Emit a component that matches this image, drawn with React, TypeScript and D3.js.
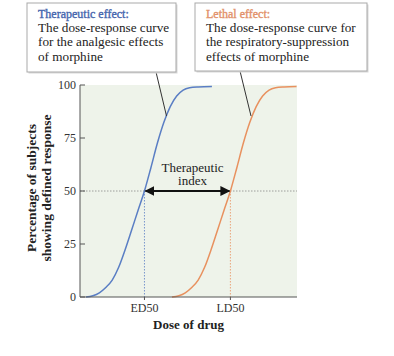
import React from "react";
import * as d3 from "d3";

const W = 394;
const H = 356;

// dose (arbitrary units) vs percent responding
const analgesicDose = [2.8, 6, 9, 12, 15, 18, 21, 24, 27, 30, 33, 36, 39, 42, 45, 48, 51, 55, 61.4];
const analgesicPct = [0, 0.6, 2, 4.5, 8, 14, 22.3, 31.5, 40.8, 50, 61, 72.5, 82.3, 89.8, 94.8, 97.6, 98.7, 99.1, 99.3];
const lethalDose = [42.8, 46, 49, 52, 55, 58, 61, 64, 67, 70, 73, 76, 79, 82, 85, 88, 91, 95, 100.8];
const lethalPct = [0, 0.6, 2, 4.5, 8, 14, 22.3, 31.5, 40.8, 50, 61, 72.5, 82.3, 89.8, 94.8, 97.6, 98.7, 99.1, 99.3];

const yTicks = [0, 25, 50, 75, 100];
const ED50 = 30;
const LD50 = 70;
const xTickValues = [ED50, LD50];
const xTickLabels = ["ED50", "LD50"];

const leftBoxTitle = "Therapeutic effect:";
const leftBoxLines = ["The dose-response curve", "for the analgesic effects", "of morphine"];
const rightBoxTitle = "Lethal effect:";
const rightBoxLines = ["The dose-response curve for", "the respiratory-suppression", "effects of morphine"];

const BLUE = "#5a7ec4";
const ORANGE = "#e8915f";
const FONT = "'Liberation Serif', 'DejaVu Serif', serif";

export default function App() {
  const x = d3.scaleLinear().domain([0, 101]).range([80, 297]);
  const y = d3.scaleLinear().domain([0, 100]).range([297, 85]);

  const line = d3
    .line<[number, number]>()
    .x((d) => x(d[0]))
    .y((d) => y(d[1]))
    .curve(d3.curveMonotoneX);

  const blue = analgesicDose.map((d, i) => [d, analgesicPct[i]] as [number, number]);
  const orange = lethalDose.map((d, i) => [d, lethalPct[i]] as [number, number]);

  const box = (
    bx: number,
    by: number,
    bw: number,
    bh: number,
    title: string,
    lines: string[],
    color: string
  ) => (
    <g>
      <rect x={bx + 1.5} y={by + 1.5} width={bw} height={bh} fill="#d8d8d8" />
      <rect x={bx} y={by} width={bw} height={bh} fill="#fff" stroke="#a9a9a9" strokeWidth={1} />
      <text
        x={bx + 11}
        y={by + 14.5}
        fill={color}
        fontSize={12}
        stroke={color}
        strokeWidth={0.35}
        fontFamily={FONT}
      >
        {title}
      </text>
      {lines.map((l, i) => (
        <text key={i} x={bx + 11} y={by + 29 + i * 14.3} fill="#222" fontSize={13.2} fontFamily={FONT}>
          {l}
        </text>
      ))}
    </g>
  );

  return (
    <svg
      width={W}
      height={H}
      style={{ position: "absolute", left: 0, top: 0, background: "#fff" }}
      fontFamily={FONT}
    >
      {/* plot background */}
      <rect x={x(0)} y={y(100)} width={x(101) - x(0)} height={y(0) - y(100)} fill="#eef3ea" />

      {/* reference lines */}
      <line x1={x(0)} x2={x(101)} y1={y(50)} y2={y(50)} stroke="#888" strokeWidth={0.8} strokeDasharray="1.5,1.5" />
      <line x1={x(ED50)} x2={x(ED50)} y1={y(50)} y2={y(0)} stroke={BLUE} strokeWidth={0.8} strokeDasharray="1.5,1.5" />
      <line x1={x(LD50)} x2={x(LD50)} y1={y(50)} y2={y(0)} stroke={ORANGE} strokeWidth={0.8} strokeDasharray="1.5,1.5" />

      {/* curves */}
      <path d={line(blue) || ""} fill="none" stroke={BLUE} strokeWidth={1.5} />
      <path d={line(orange) || ""} fill="none" stroke={ORANGE} strokeWidth={1.5} />

      {/* therapeutic index arrow */}
      <defs>
        <marker id="ah" viewBox="0 0 10 10" refX="9" refY="5" markerWidth="5" markerHeight="5" orient="auto-start-reverse">
          <path d="M0,0 L10,5 L0,10 z" fill="#111" />
        </marker>
      </defs>
      <line
        x1={x(ED50) + 1}
        x2={x(LD50) - 1}
        y1={y(50)}
        y2={y(50)}
        stroke="#111"
        strokeWidth={2}
        markerStart="url(#ah)"
        markerEnd="url(#ah)"
      />
      <text x={192.5} y={171.5} textAnchor="middle" fontSize={13} fill="#222">
        Therapeutic
      </text>
      <text x={192.5} y={185} textAnchor="middle" fontSize={13} fill="#222">
        index
      </text>

      {/* axes */}
      <line x1={x(0)} x2={x(0)} y1={y(100)} y2={y(0)} stroke="#555" strokeWidth={1} />
      <line x1={x(0)} x2={x(101)} y1={y(0)} y2={y(0)} stroke="#555" strokeWidth={1} />
      {yTicks.map((t) => (
        <g key={t}>
          <line x1={x(0)} x2={x(0) + 5} y1={y(t)} y2={y(t)} stroke="#555" strokeWidth={1} />
          <text x={x(0) - 4} y={y(t) + 4} textAnchor="end" fontSize={12} fill="#333">
            {t}
          </text>
        </g>
      ))}
      {xTickValues.map((t, i) => (
        <g key={t}>
          <line x1={x(t)} x2={x(t)} y1={y(0)} y2={y(0) + 3} stroke="#555" strokeWidth={1} />
          <text x={x(t)} y={311.5} textAnchor="middle" fontSize={12} fill="#333">
            {xTickLabels[i]}
          </text>
        </g>
      ))}
      <text x={188.5} y={328.5} textAnchor="middle" fontSize={13} fontWeight="bold" fill="#222">
        Dose of drug
      </text>
      <g transform="translate(36,188) rotate(-90)">
        <text x={0} y={0} textAnchor="middle" fontSize={13.5} fontWeight="bold" fill="#222">
          Percentage of subjects
        </text>
        <text x={0} y={15} textAnchor="middle" fontSize={13.5} fontWeight="bold" fill="#222">
          showing defined response
        </text>
      </g>

      {/* callout leader lines */}
      <line x1={156} y1={72} x2={166.5} y2={116} stroke="#333" strokeWidth={1} />
      <line x1={240} y1={71} x2={251} y2={116} stroke="#333" strokeWidth={1} />

      {/* callout boxes */}
      {box(27, 3, 149, 69, leftBoxTitle, leftBoxLines, "#4565ad")}
      {box(195, 3, 172, 68, rightBoxTitle, rightBoxLines, "#e2916a")}
    </svg>
  );
}
